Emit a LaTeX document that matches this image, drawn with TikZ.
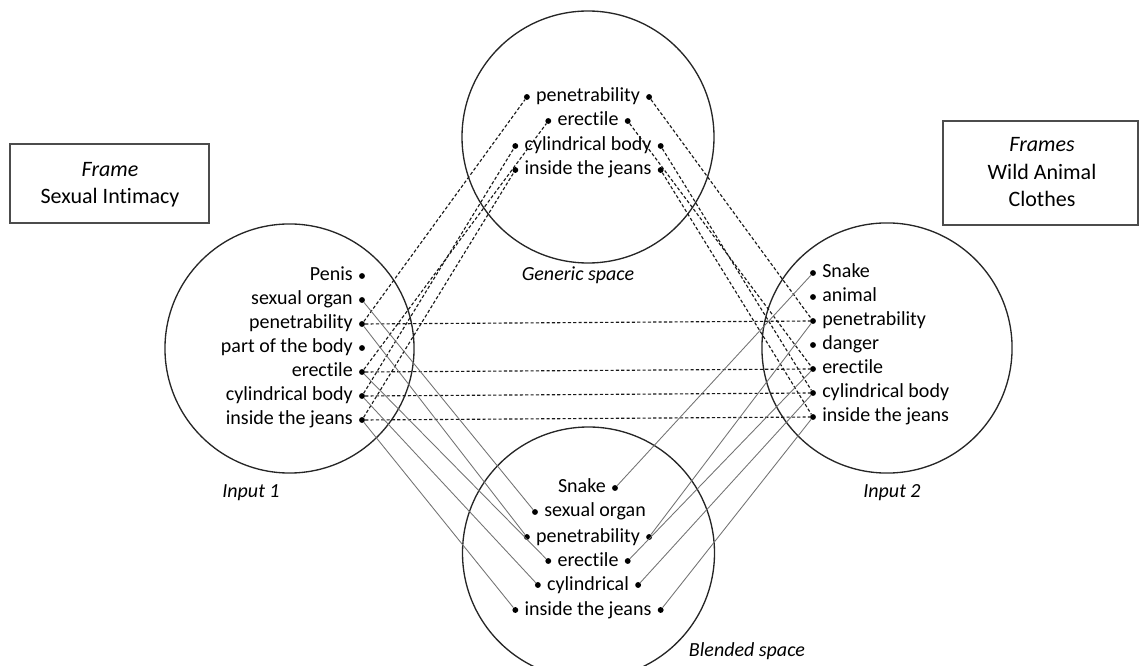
\documentclass[tikz,border=0pt]{standalone}
\usepackage{fontspec}
\setmainfont{Carlito}[RawFeature={-liga}]
\begin{document}
\begin{tikzpicture}[x=0.75pt,y=-0.75pt,
  txt/.style={inner sep=0pt, font=\fontsize{15}{20}\selectfont, text height=11.25pt, text depth=3.75pt},
  lbl/.style={txt, font=\fontsize{15}{20}\selectfont\itshape},
  btxt/.style={inner sep=0pt, font=\fontsize{16.5}{20}\selectfont, text height=12.4pt, text depth=4.1pt},
  blbl/.style={btxt, font=\fontsize{16.5}{20}\selectfont\itshape},
  dot/.style={circle, fill=black, inner sep=0pt, minimum size=4.4pt},
  ring/.style={draw=black!85, line width=1pt},
  frame/.style={draw=black!70, line width=1.1pt, inner sep=0pt},
  dline/.style={draw=black!90, line width=0.85pt, dash pattern=on 2.4pt off 1.6pt},
  sline/.style={draw=black!55, line width=0.65pt}]
\useasboundingbox (0,0) rectangle (1139,666);
\clip (0,0) rectangle (1139,666);

% circles
\draw[ring] (588,137) circle (94.5pt);
\draw[ring] (289.5,348.5) circle (93.4pt);
\draw[ring] (887,348) circle (93.8pt);
\draw[ring] (588.5,553) circle (94.5pt);

% frames
\node[frame, minimum width=149.25pt, minimum height=59.25pt] (fl) at (109.5,183.5) {};
\node[blbl] (fl1) at (110,171) {Frame};
\node[btxt] (fl2) at (110,198) {Sexual Intimacy};
\node[frame, minimum width=146.25pt, minimum height=78pt] (fr) at (1040.5,173) {};
\node[blbl] (fr1) at (1042,146) {Frames};
\node[btxt] (fr2) at (1042,174) {Wild Animal};
\node[btxt] (fr3) at (1042,201) {Clothes};

% input 1
\foreach \n/\y/\t in {1/276/Penis, 2/300/sexual organ, 3/324/penetrability, 4/348/part of the body, 5/372/erectile, 6/396/cylindrical body, 7/420/inside the jeans} {
  \node[dot] (l\n) at (362,\y) {};
  \node[txt, anchor=east] (l\n t) at ([xshift=-6.75pt]l\n.center) {\t};
}
% input 2
\foreach \n/\y/\t in {1/273/Snake, 2/297/animal, 3/321/penetrability, 4/345/danger, 5/369/erectile, 6/393/cylindrical body, 7/417/inside the jeans} {
  \node[dot] (r\n) at (813,\y) {};
  \node[txt, anchor=west] (r\n t) at ([xshift=6.75pt]r\n.center) {\t};
}
% generic
\foreach \n/\y/\t in {1/97/penetrability, 2/121/erectile, 3/146/cylindrical body, 4/170/inside the jeans} {
  \node[txt] (g\n t) at (588,\y) {\t};
  \node[dot] (gL\n) at ([xshift=-6.75pt]g\n t.west) {};
  \node[dot] (gR\n) at ([xshift=6.75pt]g\n t.east) {};
}
% blended
\node[dot] (bR1) at (615,488) {};
\node[txt, anchor=east] (b1t) at ([xshift=-6.75pt]bR1.center) {Snake};
\node[dot] (bL2) at (535,512) {};
\node[txt, anchor=west] (b2t) at ([xshift=6.75pt]bL2.center) {sexual organ};
\foreach \n/\y/\t in {3/537/penetrability, 4/561/erectile, 5/585/cylindrical, 6/610/inside the jeans} {
  \node[txt] (b\n t) at (588,\y) {\t};
  \node[dot] (bL\n) at ([xshift=-6.75pt]b\n t.west) {};
  \node[dot] (bR\n) at ([xshift=6.75pt]b\n t.east) {};
}

% labels
\node[lbl] (lg) at (578,276) {Generic space};
\node[lbl] (l1lab) at (251,493) {Input 1};
\node[lbl] (l2lab) at (892,493) {Input 2};
\node[lbl] (lb) at (747,651) {Blended space};

% dashed connectors
\draw[dline] (l3) -- (gL1);
\draw[dline] (l5) -- (gL2);
\draw[dline] (l6) -- (gL3);
\draw[dline] (l7) -- (gL4);
\draw[dline] (gR1) -- (r3);
\draw[dline] (gR2) -- (r5);
\draw[dline] (gR3) -- (r6);
\draw[dline] (gR4) -- (r7);
\draw[dline] (l3) -- (r3);
\draw[dline] (l5) -- (r5);
\draw[dline] (l6) -- (r6);
\draw[dline] (l7) -- (r7);

% solid connectors
\draw[sline] (l2) -- (bL2);
\draw[sline] (l3) -- (bL3);
\draw[sline] (l5) -- (bL4);
\draw[sline] (l6) -- (bL5);
\draw[sline] (l7) -- (bL6);
\draw[sline] (r1) -- (bR1);
\draw[sline] (r3) -- (bR3);
\draw[sline] (r5) -- (bR4);
\draw[sline] (r6) -- (bR5);
\draw[sline] (r7) -- (bR6);
\end{tikzpicture}
\end{document}
